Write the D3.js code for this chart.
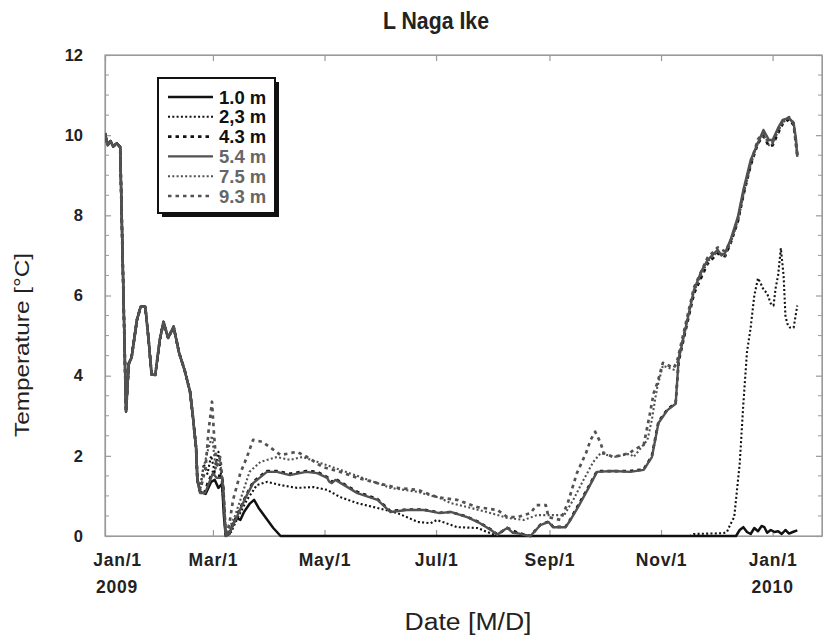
<!DOCTYPE html>
<html>
<head>
<meta charset="utf-8">
<script src="https://cdn.jsdelivr.net/npm/d3@7"></script>
<style>
  body { margin: 0; background: #fff; }
  svg { display: block; font-family: "Liberation Sans", Arial, Helvetica, sans-serif; }
</style>
</head>
<body>
<div id="chart"></div>
<script>
// chart values (day = days since 2009-01-01, value = degC)
const titleText = 'L Naga Ike'
const depthLabels = ['1.0 m', '2,3 m', '4.3 m', '5.4 m', '7.5 m', '9.3 m']
const monthTickDates = ['2009-01-01', '2009-03-01', '2009-05-01', '2009-07-01', '2009-09-01', '2009-11-01', '2010-01-01']
const monthTickLabels = ['Jan/1', 'Mar/1', 'May/1', 'Jul/1', 'Sep/1', 'Nov/1', 'Jan/1']
const yearLabels = ['2009', '2010']
const yTicks = [0, 2, 4, 6, 8, 10, 12]

// Jan-Feb: the water column is mixed, every depth reads the same
const mixedWinter = [[0, 10.05], [1.5, 9.75], [3, 9.85], [4.5, 9.72], [6.5, 9.8], [8.3, 9.7], [11.5, 3.1], [13, 4.3],
  [14.5, 4.45], [17.5, 5.4], [19.5, 5.72], [22, 5.72], [23.5, 5.06], [25.5, 4.02], [27.5, 4.02], [30, 4.9], [32, 5.34],
  [34.5, 4.94], [37.5, 5.22], [40.5, 4.57], [43.5, 4.14], [46.5, 3.6], [48, 3.0], [49.8, 2.2], [50.5, 1.4]]

const t10 = [[52, 1.1], [55, 1.05], [58, 1.35], [60, 1.4], [62, 1.2], [64, 1.3], [65, 0.5], [66, 0], [68, 0.05], [70, 0.3],
  [72, 0.45], [74, 0.4], [76, 0.6], [79, 0.8], [81.5, 0.9], [84, 0.7], [88, 0.45], [92, 0.2], [96, 0], [345, 0],
  [347, 0.15], [349, 0.22], [351, 0.1], [353, 0.05], [355, 0.2], [357, 0.12], [359, 0.25], [360.5, 0.22], [362, 0.08],
  [364, 0.15], [366, 0.1], [368, 0.12], [370, 0.05], [372, 0.15], [374, 0.06], [376, 0.1], [378.5, 0.14]]

const t23 = [[52, 1.15], [54, 1.8], [56, 1.55], [58, 2.0], [60, 1.6], [62, 2.1], [64, 1.3], [66, 0], [69, 0.1], [72, 0.4],
  [77.6, 0.9], [83, 1.27], [88.6, 1.35], [96, 1.27], [105, 1.2], [114, 1.22], [121.5, 1.15], [128.6, 0.97], [138, 0.82],
  [149, 0.7], [160, 0.57], [171, 0.35], [178, 0.32], [181.5, 0.4], [192.6, 0.22], [203.6, 0.2], [209, 0.1], [215, 0],
  [320, 0], [322, 0.05], [338, 0.07], [340, 0.1], [342, 0.3], [344, 0.47], [347, 1.8], [349, 3.3], [351, 4.6], [353, 5.2],
  [355, 6.0], [357, 6.43], [358.5, 6.3], [360, 6.15], [362, 6.05], [364, 5.8], [365.5, 5.75], [366.7, 6.2], [368, 6.5],
  [369.5, 7.18], [371, 6.5], [372, 5.5], [373, 5.3], [374.5, 5.2], [376.5, 5.2], [378.5, 5.75]]

const t43 = [[52, 1.1], [54.7, 1.1], [56, 1.3], [59, 1.6], [61, 1.5], [64, 1.5], [64.7, 1.2], [66, 0], [68, 0.1], [72, 0.5],
  [77, 1.0], [81, 1.35], [85, 1.5], [88.5, 1.62], [94, 1.62], [101, 1.55], [110, 1.62], [116, 1.6], [121.5, 1.47],
  [124, 1.35], [126, 1.42], [138, 1.1], [149, 0.92], [156, 0.62], [165, 0.66], [174, 0.66], [183, 0.58], [189, 0.6],
  [198, 0.48], [205, 0.33], [211, 0.16], [214.5, 0.04], [220, 0.2], [225.5, 0.08], [232.6, 0], [238, 0.28], [242.5, 0.36],
  [245, 0.23], [251.8, 0.23], [254.5, 0.42], [263.8, 1.18], [269, 1.62], [287, 1.62], [294.5, 1.66], [299, 2.0],
  [302.6, 2.85], [307.5, 3.16], [312, 3.32], [313.6, 4.35], [318, 5.25], [322, 6.05], [329.5, 6.8], [335, 7.05],
  [339, 6.98], [342, 7.3], [346, 7.85], [349, 8.5], [353, 9.25], [357, 9.8], [360, 9.98], [363, 9.72], [365, 9.75],
  [368, 10.05], [370.5, 10.28], [374, 10.4], [376.5, 10.25], [378.5, 9.5]]

const t54 = [[52, 1.07], [54.7, 1.07], [56, 1.22], [59, 1.57], [61, 1.45], [64, 1.45], [64.7, 1.15], [66, 0], [68, 0.07],
  [72, 0.47], [77, 0.97], [81, 1.32], [85, 1.47], [88.5, 1.6], [94, 1.6], [101, 1.52], [110, 1.6], [116, 1.57],
  [121.5, 1.45], [122.5, 1.36], [124, 1.32], [126, 1.4], [138, 1.07], [149, 0.9], [156, 0.6], [165, 0.65], [174, 0.65],
  [183, 0.57], [189, 0.6], [198, 0.47], [205, 0.32], [211, 0.15], [214.5, 0.03], [217, 0.12], [220, 0.2], [223, 0.08],
  [225.5, 0.07], [229, 0.03], [232.6, 0], [235, 0.12], [238, 0.27], [242.5, 0.35], [245, 0.22], [251.8, 0.22],
  [254.5, 0.4], [259, 0.75], [263.8, 1.15], [269, 1.6], [278, 1.62], [287, 1.6], [294.5, 1.65], [299, 1.97],
  [302.6, 2.82], [307.5, 3.14], [312, 3.3], [313.6, 4.4], [318, 5.3], [322, 6.14], [326, 6.6], [329.5, 6.89],
  [335, 7.14], [337, 7.0], [339, 7.06], [342, 7.39], [346, 7.96], [349, 8.63], [353, 9.38], [356, 9.7], [360, 10.13],
  [363, 9.88], [365, 9.88], [368, 10.18], [370.5, 10.38], [374, 10.43], [376.5, 10.3], [377.8, 9.9], [378.5, 9.46]]

const t75 = [[52, 1.2], [53.6, 1.65], [56, 2.1], [58.5, 2.5], [60.5, 1.7], [63, 1.9], [64.5, 1.2], [66, 0], [68, 0.2],
  [71, 0.5], [74, 0.9], [79, 1.6], [85, 1.85], [94, 1.97], [101, 1.9], [108, 1.97], [116, 1.85], [128.6, 1.65],
  [141, 1.45], [156, 1.2], [171, 1.1], [183, 0.95], [189, 0.82], [200, 0.7], [211, 0.57], [220, 0.45], [229, 0.4],
  [236, 0.52], [245, 0.52], [251, 0.52], [256, 0.9], [261.6, 1.4], [267, 1.85], [271, 2.07], [278, 1.97], [287, 2.05],
  [289, 1.97], [296.6, 2.4], [299, 2.9], [301, 3.47], [302, 3.72], [305, 4.25], [311, 4.15], [313, 4.35], [318, 5.35],
  [322, 6.1], [329.5, 6.85], [335, 7.1], [339, 7.0], [342, 7.3], [346, 7.85], [349, 8.5], [353, 9.25], [357, 9.85],
  [360, 10.0], [363, 9.75], [365, 9.78], [368, 10.1], [370.5, 10.32], [374, 10.42], [376.5, 10.28], [378.5, 9.5]]

const t93 = [[52, 1.15], [53.5, 1.4], [55, 1.72], [56.5, 2.57], [58.5, 3.35], [59.5, 2.6], [61, 1.72], [63, 1.97],
  [64.6, 1.22], [66, 0], [68, 0.3], [70, 0.9], [74, 1.57], [77.6, 1.97], [81, 2.4], [86, 2.35], [90, 2.22], [96, 2.02],
  [105, 2.1], [110.5, 1.97], [119, 1.72], [128.6, 1.6], [138, 1.45], [149, 1.32], [160, 1.2], [171, 1.15], [181.5, 0.97],
  [192.6, 0.9], [203.6, 0.72], [214.5, 0.65], [220, 0.47], [225.5, 0.47], [232.6, 0.57], [236, 0.77], [241, 0.77],
  [242.5, 0.47], [249, 0.4], [253, 0.82], [258, 1.57], [263, 2.07], [265.5, 2.4], [268, 2.6], [271, 2.32], [272.6, 2.07],
  [278, 1.97], [287, 2.07], [289, 2.15], [294.5, 2.27], [298, 3.07], [300, 3.57], [302, 3.82], [305, 4.32], [311, 4.19],
  [313, 4.4], [318, 5.4], [322, 6.2], [329.5, 6.95], [335, 7.2], [339, 7.1], [342, 7.35], [346, 7.9], [349, 8.55],
  [353, 9.3], [357, 9.9], [360, 10.05], [363, 9.8], [365, 9.82], [368, 10.12], [370.5, 10.35], [374, 10.45],
  [376.5, 10.3], [378.5, 9.5]]

const seriesValues = [t10, t23, t43, t54, t75, t93]

// look of each depth, same order as depthLabels
const GRAY = '#525252'
const LINE_STYLES = [
  { color: '#111', dash: null, width: 2.5 },
  { color: '#111', dash: '2,2.3', width: 2.1 },
  { color: '#111', dash: '3.5,4', width: 2.7 },
  { color: GRAY, dash: null, width: 2.4 },
  { color: GRAY, dash: '2,2.3', width: 2.1 },
  { color: GRAY, dash: '3.5,4', width: 2.7 }
]
const LEGEND_TEXT = ['#111', '#111', '#111', '#666', '#666', '#666']

const WIDTH = 823
const HEIGHT = 641
const PLOT = { left: 105, right: 822, top: 55, bottom: 536 }
const AXIS_COLOR = '#9a9a9a'
const DAY0 = Date.UTC(2009, 0, 1)
const toDate = d => new Date(DAY0 + d * 864e5)

const svg = d3.select('#chart')
  .append('svg')
  .attr('width', WIDTH)
  .attr('height', HEIGHT)

const x = d3.scaleUtc()
  .domain([toDate(0), toDate(392)])
  .range([PLOT.left, PLOT.right])

const y = d3.scaleLinear()
  .domain([0, 12])
  .range([PLOT.bottom, PLOT.top])

const tickDates = monthTickDates.map(s => new Date(s + 'T00:00:00Z'))
const minorY = d3.range(0, 12.01, 0.5).filter(v => v % 2 !== 0)

// frame
svg.append('rect')
  .attr('x', PLOT.left).attr('y', PLOT.top)
  .attr('width', PLOT.right - PLOT.left).attr('height', PLOT.bottom - PLOT.top)
  .style('fill', 'none')
  .style('stroke', AXIS_COLOR)
  .style('stroke-width', 1.2)

// minor ticks on both sides
const minorG = svg.append('g')
minorG.selectAll('line.ml')
  .data(minorY).enter().append('line')
  .attr('x1', PLOT.left).attr('x2', PLOT.left + 4)
  .attr('y1', d => y(d)).attr('y2', d => y(d))
minorG.selectAll('line.mr')
  .data(minorY).enter().append('line')
  .attr('x1', PLOT.right - 4).attr('x2', PLOT.right)
  .attr('y1', d => y(d)).attr('y2', d => y(d))
minorG.selectAll('line').style('stroke', AXIS_COLOR).style('stroke-width', 1)

// axes
const bottomAxis = svg.append('g')
  .attr('transform', `translate(0,${PLOT.bottom})`)
  .call(d3.axisBottom(x).tickValues(tickDates).tickSizeInner(-6).tickSizeOuter(0).tickPadding(18)
    .tickFormat((d, i) => monthTickLabels[i]))

svg.append('g')
  .attr('transform', `translate(0,${PLOT.top})`)
  .call(d3.axisTop(x).tickValues(tickDates).tickSizeInner(-6).tickSizeOuter(0).tickFormat(''))

const leftAxis = svg.append('g')
  .attr('transform', `translate(${PLOT.left},0)`)
  .call(d3.axisLeft(y).tickValues(yTicks).tickSizeInner(-6).tickSizeOuter(0).tickPadding(22).tickFormat(d3.format('d')))

svg.append('g')
  .attr('transform', `translate(${PLOT.right},0)`)
  .call(d3.axisRight(y).tickValues(yTicks).tickSizeInner(-6).tickSizeOuter(0).tickFormat(''))

svg.selectAll('.domain').style('stroke', AXIS_COLOR).style('stroke-width', 1.2)
svg.selectAll('.tick line').style('stroke', AXIS_COLOR).style('stroke-width', 1.2)

bottomAxis.selectAll('text')
  .style('font-size', '17.5px')
  .style('font-weight', 'bold')
  .style('letter-spacing', '0.8px')
  .style('fill', '#222')
// the first label sits a little right of its tick, as in the figure
bottomAxis.select('.tick text').attr('dx', 12)

leftAxis.selectAll('text')
  .style('font-size', '16.5px')
  .style('font-weight', 'bold')
  .style('fill', '#222')

// year labels under the two Jan/1 ticks
svg.selectAll('text.year')
  .data(yearLabels).enter().append('text')
  .attr('class', 'year')
  .attr('x', (d, i) => x(tickDates[i === 0 ? 0 : tickDates.length - 1]) + (i === 0 ? 12 : 0))
  .attr('y', 593)
  .attr('text-anchor', 'middle')
  .style('font-size', '17.5px')
  .style('font-weight', 'bold')
  .style('letter-spacing', '0.8px')
  .style('fill', '#222')
  .text(d => d)

// titles
svg.append('text')
  .attr('x', 436).attr('y', 29)
  .attr('text-anchor', 'middle')
  .attr('textLength', 106)
  .attr('lengthAdjust', 'spacingAndGlyphs')
  .style('font-size', '23px')
  .style('font-weight', 'bold')
  .style('fill', '#222')
  .text(titleText)

svg.append('text')
  .attr('x', 468).attr('y', 630)
  .attr('text-anchor', 'middle')
  .attr('textLength', 127)
  .attr('lengthAdjust', 'spacingAndGlyphs')
  .style('font-size', '23px')
  .style('fill', '#222')
  .text('Date [M/D]')

svg.append('text')
  .attr('transform', 'translate(29,345) rotate(-90)')
  .attr('text-anchor', 'middle')
  .attr('textLength', 184)
  .attr('lengthAdjust', 'spacingAndGlyphs')
  .style('font-size', '20px')
  .style('fill', '#222')
  .text('Temperature [°C]')

// lines
svg.append('clipPath').attr('id', 'plotClip')
  .append('rect')
  .attr('x', PLOT.left).attr('y', PLOT.top - 2)
  .attr('width', PLOT.right - PLOT.left).attr('height', PLOT.bottom - PLOT.top + 4)

const line = d3.line()
  .x(d => x(toDate(d[0])))
  .y(d => y(d[1]))

const series = seriesValues.map((vals, i) => ({ label: depthLabels[i], values: mixedWinter.concat(vals), style: LINE_STYLES[i] }))

svg.append('g')
  .attr('clip-path', 'url(#plotClip)')
  .selectAll('path')
  .data(series)
  .enter()
  .append('path')
  .attr('d', d => line(d.values))
  .style('fill', 'none')
  .style('stroke', d => d.style.color)
  .style('stroke-width', d => d.style.width)
  .style('stroke-dasharray', d => d.style.dash)
  .style('stroke-linejoin', 'round')

// legend box with drop shadow
const legend = svg.append('g').attr('transform', 'translate(158,78)')
legend.append('rect')
  .attr('x', 4).attr('y', 4).attr('width', 117).attr('height', 135)
  .style('fill', '#111')
legend.append('rect')
  .attr('width', 117).attr('height', 135)
  .style('fill', '#fff')
  .style('stroke', '#111')
  .style('stroke-width', 2)

const rows = legend.selectAll('g.row')
  .data(series)
  .enter()
  .append('g')
  .attr('class', 'row')
  .attr('transform', (d, i) => `translate(0,${19 + i * 19.8})`)

rows.append('line')
  .attr('x1', 10).attr('x2', 55)
  .style('stroke', d => d.style.color)
  .style('stroke-width', d => d.style.width)
  .style('stroke-dasharray', d => d.style.dash)

rows.append('text')
  .attr('x', 61)
  .attr('dy', '0.36em')
  .style('font-size', '18.5px')
  .style('font-weight', 'bold')
  .style('fill', (d, i) => LEGEND_TEXT[i])
  .text(d => d.label)
</script>
</body>
</html>
